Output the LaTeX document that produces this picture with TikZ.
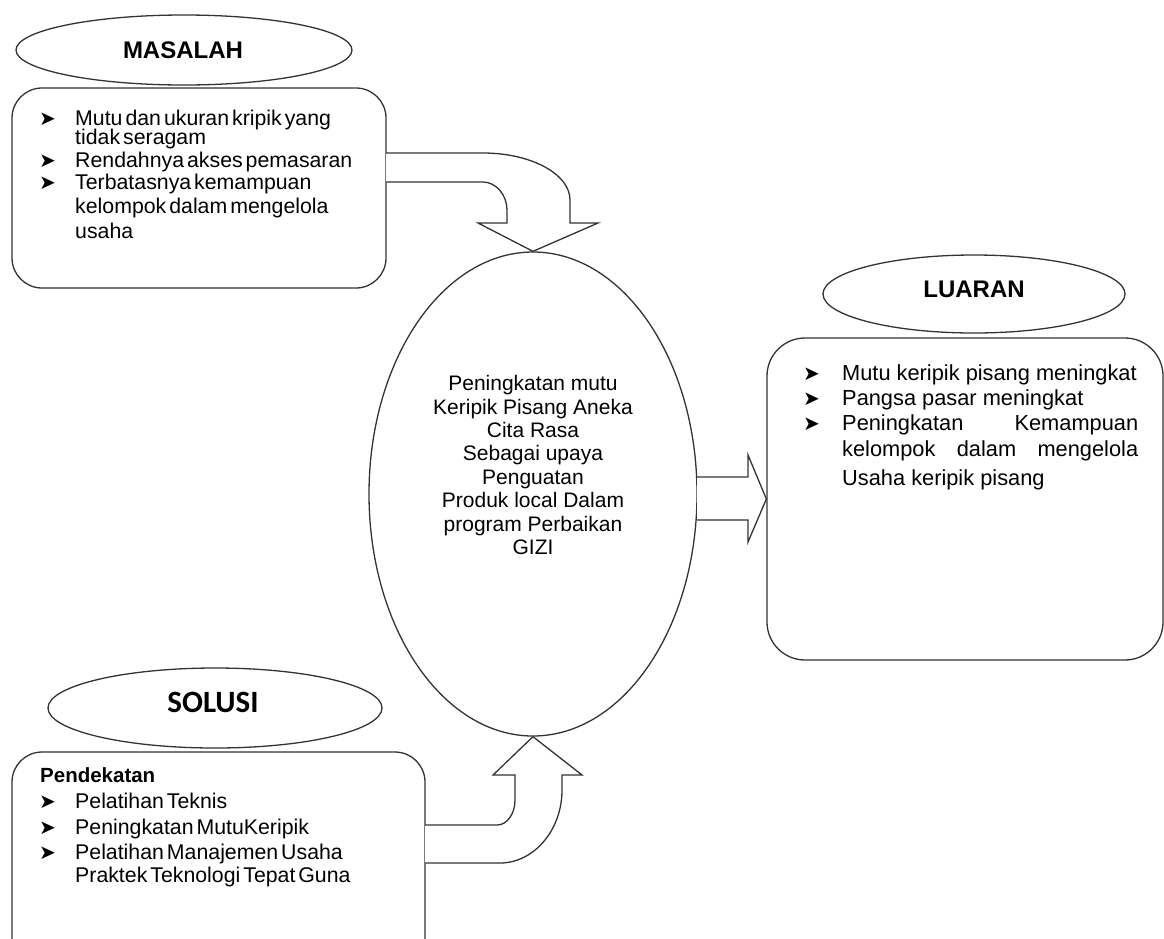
\documentclass[tikz,border=0pt]{standalone}
\usepackage{fontspec}
\setmainfont{Liberation Sans}
\newfontfamily\carlito{Carlito}
\newfontfamily\dejavu{DejaVu Sans}
\usetikzlibrary{shapes.geometric}
\tikzset{
  ln/.style={draw=black!80, line width=1.3pt},
  hdr/.style={ln, ellipse, inner sep=0pt, fill=white},
  boxshape/.style={ln, rectangle, rounded corners=#1, inner sep=0pt},
  blockarrow/.style={ln, fill=white, line join=miter},
  txt/.style={anchor=base west, inner sep=0pt, font=\fontsize{21.8}{24}\selectfont},
  tighttxt/.style={anchor=base west, inner sep=0pt, font=\fontsize{21.3}{24}\selectfont,
    execute at begin node={\spaceskip=0.14em plus 0.05em}},
  bul/.style={anchor=base west, inner sep=0pt, font=\dejavu\fontsize{20}{20}\selectfont},
  hdrtxt/.style={inner sep=0pt, font=\bfseries\fontsize{24}{28}\selectfont},
}
\newcommand{\bl}{➤}
\begin{document}
\begin{tikzpicture}[x=1pt,y=-1pt]
\useasboundingbox (0,0) rectangle (1164,938);
\clip (0,0) rectangle (1164,938);

% ---------- MASALAH ----------
\node[hdr, minimum width=336pt, minimum height=70pt] (mhdr) at (184,50) {};
\node[hdrtxt] (mhdrt) at (183,50) {MASALAH};
\node[boxshape=30pt, minimum width=374pt, minimum height=200pt] (mbox) at (199,188) {};
\node[bul] (mb1) at (39,125) {\bl};
\node[tighttxt] (mt1) at (75,125) {Mutu dan ukuran kripik yang};
\node[tighttxt] (mt1b) at (75,144) {tidak seragam};
\node[bul] (mb2) at (39,167) {\bl};
\node[tighttxt] (mt2) at (75,167) {Rendahnya akses pemasaran};
\node[bul] (mb3) at (39,189) {\bl};
\node[tighttxt] (mt3) at (75,189) {Terbatasnya kemampuan};
\node[tighttxt] (mt3b) at (75,213) {kelompok dalam mengelola};
\node[tighttxt] (mt3c) at (75,238) {usaha};

% ---------- central ellipse ----------
\node[hdr, minimum width=328pt, minimum height=484pt] (core) at (533,494) {};
\node[inner sep=0pt, align=center, font=\fontsize{21}{23.4}\selectfont] (coret) at (533,465)
  {Peningkatan mutu\\Keripik Pisang Aneka\\Cita Rasa\\Sebagai upaya\\Penguatan\\Produk local Dalam\\program Perbaikan\\GIZI};

% ---------- top curved arrow ----------
\draw[blockarrow] (386,153) -- (483,153) .. controls (531,153) and (570,174) .. (570,200)
  -- (570,223) -- (598,223) -- (core.north) -- (478,223) -- (507,223) -- (507,210)
  .. controls (507,195) and (496,182) .. (483,182) -- (386,182);

% ---------- LUARAN ----------
\node[hdr, minimum width=302pt, minimum height=78pt] (lhdr) at (974,294) {};
\node[hdrtxt] (lhdrt) at (974,289) {LUARAN};
\node[boxshape=38pt, minimum width=396pt, minimum height=322pt] (lbox) at (965,499) {};
\node[bul] (lb1) at (803,380) {\bl};
\node[txt] (lt1) at (842,380) {Mutu keripik pisang meningkat};
\node[bul] (lb2) at (803,405) {\bl};
\node[txt] (lt2) at (842,405) {Pangsa pasar meningkat};
\node[bul] (lb3) at (803,430) {\bl};
\node[txt] (lt3) at (842,430) {\makebox[296pt][s]{Peningkatan Kemampuan}};
\node[txt] (lt3b) at (842,456) {\makebox[296pt][s]{kelompok dalam mengelola}};
\node[txt] (lt3c) at (842,485) {Usaha keripik pisang};

% ---------- right block arrow ----------
\draw[blockarrow] (697,477) -- (748,477) -- (748,455) -- (lbox.west) -- (748,542) -- (748,520) -- (697,520);

% ---------- SOLUSI ----------
\node[hdr, minimum width=334pt, minimum height=80pt] (shdr) at (215,708) {};
\node[inner sep=0pt, font=\carlito\bfseries\fontsize{31}{34}\selectfont] (shdrt) at (213,702) {SOLUSI};
\node[boxshape=30pt, minimum width=413pt, minimum height=216pt] (sbox) at (218.5,860) {};
\node[anchor=base west, inner sep=0pt, font=\bfseries\fontsize{20.5}{24}\selectfont] (st0) at (40,782) {Pendekatan};
\node[bul] (sb1) at (39,808) {\bl};
\node[tighttxt] (st1) at (75,808) {Pelatihan Teknis};
\node[bul] (sb2) at (39,834) {\bl};
\node[tighttxt] (st2) at (75,834) {Peningkatan MutuKeripik};
\node[bul] (sb3) at (39,859) {\bl};
\node[tighttxt] (st3) at (75,859) {Pelatihan Manajemen Usaha};
\node[tighttxt] (st4) at (75,882) {Praktek Teknologi Tepat Guna};

% ---------- bottom curved arrow ----------
\draw[blockarrow] (425,825) -- (497,825) .. controls (507,825) and (515,814) .. (515,800)
  -- (515,775) -- (493,775) -- (core.south) -- (582,775) -- (562,775) -- (562,790)
  .. controls (562,830) and (534,863) .. (500,863) -- (425,863);
\end{tikzpicture}
\end{document}
